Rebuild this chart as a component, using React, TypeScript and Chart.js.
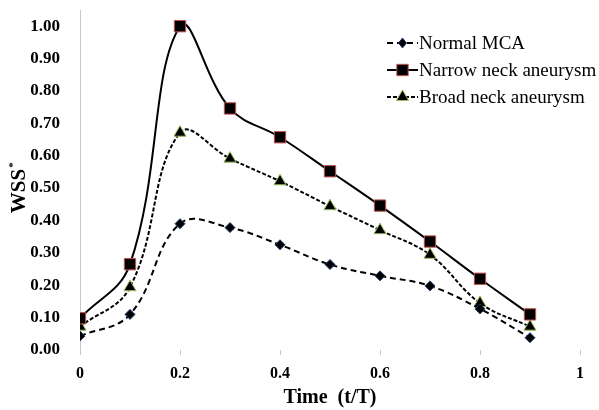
import React, { useEffect, useRef } from "react";
import { Chart, registerables } from "chart.js";

Chart.register(...registerables);

const timeValues = [0, 0.1, 0.2, 0.3, 0.4, 0.5, 0.6, 0.7, 0.8, 0.9];
const normalMCA = [0.043, 0.11, 0.39, 0.378, 0.325, 0.264, 0.229, 0.198, 0.127, 0.038];
const narrowNeck = [0.098, 0.265, 1.0, 0.746, 0.657, 0.552, 0.446, 0.335, 0.22, 0.11];
const broadNeck = [0.072, 0.194, 0.671, 0.591, 0.521, 0.444, 0.37, 0.294, 0.145, 0.072];
const seriesNames = ["Normal MCA", "Narrow neck aneurysm", "Broad neck aneurysm"];
const xTicks = [0, 0.2, 0.4, 0.6, 0.8, 1];
const yTicks = [0, 0.1, 0.2, 0.3, 0.4, 0.5, 0.6, 0.7, 0.8, 0.9, 1.0];

const SERIF = "'Liberation Serif', 'Times New Roman', serif";

function drawMarker(ctx: CanvasRenderingContext2D, style: string, x: number, y: number, fill: string, stroke: string, r: number) {
  ctx.save();
  ctx.setLineDash([]);
  ctx.fillStyle = fill;
  ctx.strokeStyle = stroke;
  ctx.lineWidth = 1;
  ctx.beginPath();
  if (style === "rect") {
    const s = Math.SQRT1_2 * r;
    ctx.rect(x - s, y - s, 2 * s, 2 * s);
  } else if (style === "rectRot") {
    ctx.moveTo(x, y - r);
    ctx.lineTo(x + r * 0.8, y);
    ctx.lineTo(x, y + r);
    ctx.lineTo(x - r * 0.8, y);
    ctx.closePath();
  } else {
    ctx.moveTo(x, y - r);
    ctx.lineTo(x + r * 0.866, y + r * 0.5);
    ctx.lineTo(x - r * 0.866, y + r * 0.5);
    ctx.closePath();
  }
  ctx.fill();
  ctx.stroke();
  ctx.restore();
}

const legendPlugin = {
  id: "customLegend",
  afterDraw(chart: any) {
    const ctx = chart.ctx as CanvasRenderingContext2D;
    const x0 = 387;
    const x1 = 418;
    const rows = [43, 70, 97];
    chart.data.datasets.forEach((ds: any, i: number) => {
      const y = rows[i];
      ctx.save();
      ctx.strokeStyle = "#000";
      ctx.lineWidth = 2;
      ctx.setLineDash(ds.borderDash || []);
      ctx.beginPath();
      ctx.moveTo(x0, y);
      ctx.lineTo(x1, y);
      ctx.stroke();
      ctx.restore();
      drawMarker(ctx, ds.pointStyle, (x0 + x1) / 2, y, ds.pointBackgroundColor, ds.pointBorderColor, ds.pointRadius);
      ctx.save();
      ctx.fillStyle = "#000";
      ctx.font = `19px ${SERIF}`;
      ctx.textBaseline = "middle";
      ctx.textAlign = "left";
      ctx.fillText(ds.label, x1 + 1, y + 1);
      ctx.restore();
    });
    // y-axis title with superscript
    ctx.save();
    ctx.translate(20, 188);
    ctx.rotate(-Math.PI / 2);
    ctx.fillStyle = "#000";
    ctx.font = `bold 21px ${SERIF}`;
    ctx.textBaseline = "middle";
    const w = ctx.measureText("WSS").width;
    ctx.textAlign = "left";
    ctx.fillText("WSS", -w / 2 - 3, 0);
    ctx.font = `bold 11px ${SERIF}`;
    ctx.fillText("*", w / 2 - 2, -7);
    ctx.restore();
  },
};

export default function App() {
  const ref = useRef<HTMLCanvasElement>(null);
  useEffect(() => {
    document.body.style.margin = "0";
    const mk = (vals: number[]) => timeValues.map((t, i) => ({ x: t, y: vals[i] }));
    const chart = new Chart(ref.current!, {
      type: "line",
      data: {
        datasets: [
          {
            label: seriesNames[0],
            data: mk(normalMCA),
            borderColor: "#000",
            borderWidth: 2,
            borderDash: [6, 4],
            pointStyle: "rectRot",
            pointRadius: 5,
            pointBackgroundColor: "#000",
            pointBorderColor: "#1f3a6e",
            pointBorderWidth: 1,
            tension: 0.4,
          },
          {
            label: seriesNames[1],
            data: mk(narrowNeck),
            borderColor: "#000",
            borderWidth: 2,
            borderDash: [],
            pointStyle: "rect",
            pointRadius: 8,
            pointBackgroundColor: "#000",
            pointBorderColor: "#c0504d",
            pointBorderWidth: 1,
            tension: 0.4,
          },
          {
            label: seriesNames[2],
            data: mk(broadNeck),
            borderColor: "#000",
            borderWidth: 2,
            borderDash: [4, 2],
            pointStyle: "triangle",
            pointRadius: 7,
            pointBackgroundColor: "#000",
            pointBorderColor: "#9bbb59",
            pointBorderWidth: 1,
            tension: 0.4,
          },
        ] as any,
      },
      options: {
        animation: false,
        responsive: false,
        maintainAspectRatio: false,
        layout: { padding: { top: 10, right: 19, left: 0, bottom: 0 } },
        plugins: { legend: { display: false }, tooltip: { enabled: false } },
        scales: {
          x: {
            type: "linear",
            min: 0,
            max: 1,
            afterBuildTicks: (s: any) => {
              s.ticks = xTicks.map((v) => ({ value: v }));
            },
            afterFit: (s: any) => {
              s.height = 60;
              s.paddingLeft = 0;
              s.paddingRight = 0;
            },
            border: { display: false },
            grid: { drawOnChartArea: false, drawTicks: true, tickLength: 5, color: "#c8c8c8" },
            ticks: {
              color: "#000",
              font: { family: SERIF, size: 16, weight: "bold" },
              padding: 9,
              maxRotation: 0,
              callback: (v: any) => String(v),
            },
            title: {
              display: true,
              text: "Time  (t/T)",
              color: "#000",
              font: { family: SERIF, size: 20, weight: "bold" },
              padding: { top: 2, bottom: 0 },
            },
          },
          y: {
            type: "linear",
            min: 0,
            max: 1.05,
            afterBuildTicks: (s: any) => {
              s.ticks = yTicks.map((v) => ({ value: v }));
            },
            afterFit: (s: any) => {
              s.width = 80;
              s.paddingTop = 0;
              s.paddingBottom = 0;
            },
            border: { display: true, color: "#c8c8c8", width: 1 },
            grid: { display: false },
            ticks: {
              color: "#000",
              font: { family: SERIF, size: 17, weight: "bold" },
              padding: 12,
              callback: (v: any) => Number(v).toFixed(2),
            },
          },
        },
      } as any,
      plugins: [legendPlugin],
    });
    return () => chart.destroy();
  }, []);
  return (
    <div style={{ position: "absolute", left: 0, top: 0, width: 599, height: 410, background: "#fff" }}>
      <canvas ref={ref} width={599} height={410} />
    </div>
  );
}
